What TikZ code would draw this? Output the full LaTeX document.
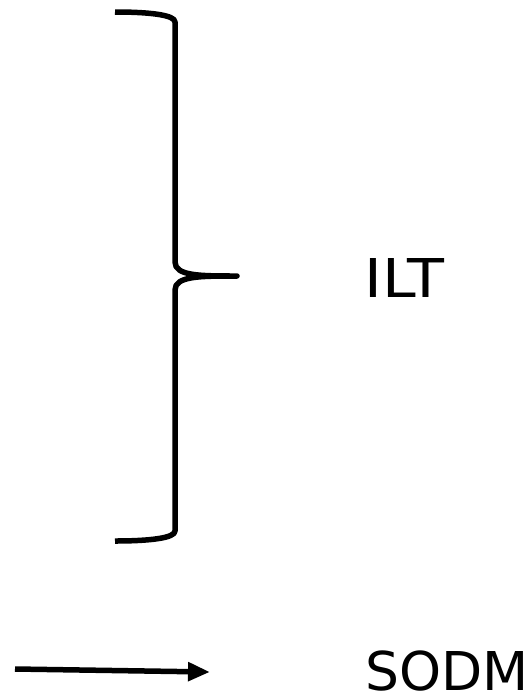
\documentclass[tikz,border=0pt]{standalone}
\usepackage{fontspec}
\usepackage{graphicx}
\setmainfont{DejaVu Sans}
\usetikzlibrary{arrows.meta}
\begin{document}
\begin{tikzpicture}[x=1pt,y=-1pt,
  bracestyle/.style={line width=5.5pt,line join=round},
  arrowstyle/.style={line width=5.5pt,-{Triangle[length=22pt,width=18pt]}},
  lbl/.style={inner sep=0pt,anchor=base west,font=\fontsize{53.5}{60}\selectfont}]
\useasboundingbox (0,0) rectangle (531,691);
\draw[bracestyle] (115,12) .. controls (150,12) and (175,15) .. (175,22)
  -- (175,262) .. controls (175,276) and (200,276) .. (237,276)
  .. controls (200,276) and (175,276) .. (175,290)
  -- (175,531) .. controls (175,538) and (150,541) .. (115,541);
\node[lbl] (ilt) at (364,297) {\scalebox{1.13}[1]{ILT}};
\node[lbl] (sodm) at (365,690) {SODM};
\coordinate (a1) at (15,669);
\coordinate (a2) at (210,672);
\draw[arrowstyle] (a1) -- (a2);
\end{tikzpicture}
\end{document}
